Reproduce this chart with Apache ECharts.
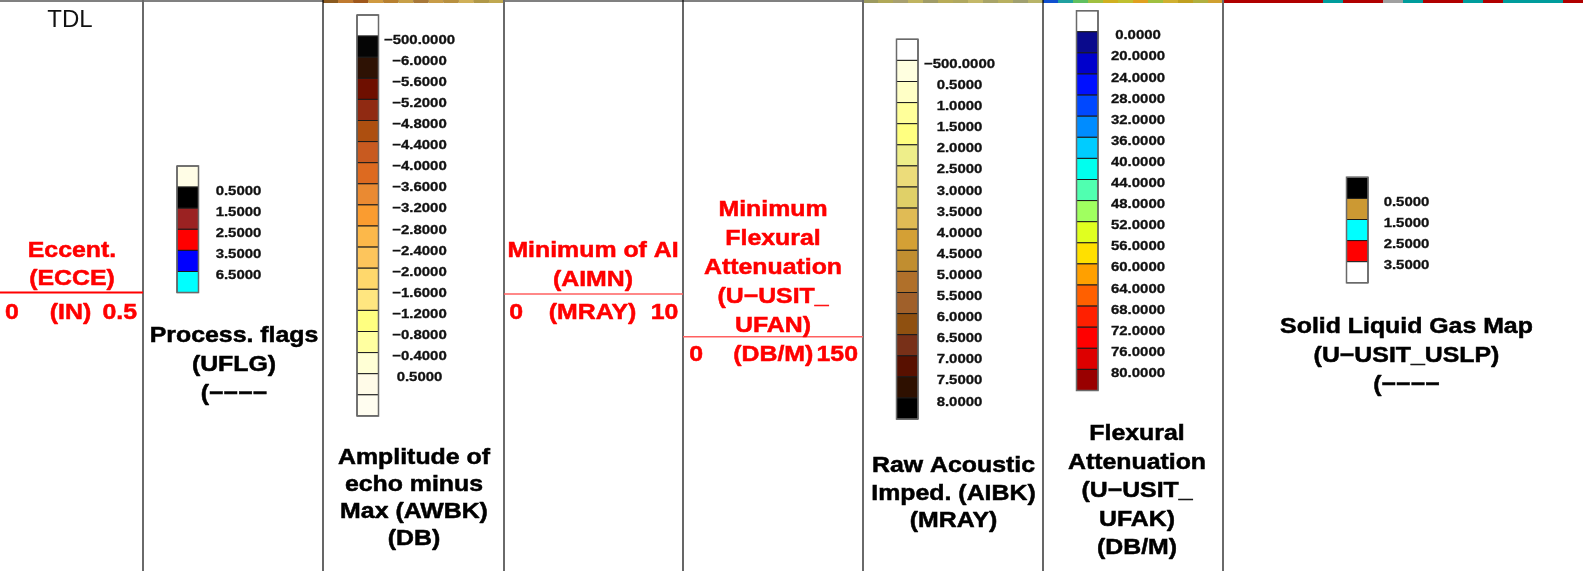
<!DOCTYPE html>
<html><head><meta charset="utf-8">
<script src="https://cdn.jsdelivr.net/npm/echarts/dist/echarts.min.js"></script>
<style>html,body{margin:0;padding:0;background:#fff}#c{width:1583px;height:571px}</style>
</head><body><div id="c"></div><script>
// ---------------- DATA ----------------
const uflgColors = ['#fffde6','#000000','#9b2222','#ff0000','#0000ff','#00ffff'];
const uflgLabels = ['0.5000','1.5000','2.5000','3.5000','6.5000'];

const awbkColors = ['#ffffff','#050505','#2e1204','#6e0f00','#902a12','#ad4f10','#c85a20','#dd6a20','#ea8a32','#fa9c30','#fcb84a','#fdc55c','#ffd86c','#ffe680','#ffff80','#ffffa0','#ffffd5','#fffbe8','#fffdf0'];
const awbkLabels = ['\u2212500.0000','\u22126.0000','\u22125.6000','\u22125.2000','\u22124.8000','\u22124.4000','\u22124.0000','\u22123.6000','\u22123.2000','\u22122.8000','\u22122.4000','\u22122.0000','\u22121.6000','\u22121.2000','\u22120.8000','\u22120.4000','0.5000'];

const aibkColors = ['#ffffff','#ffffe0','#ffffc6','#ffff9a','#ffff80','#eeee8a','#ecdc7a','#e0d068','#e0bb55','#d4a035','#c18e30','#b0702a','#a0602a','#8f5010','#783018','#581000','#2e1000','#000000'];
const aibkLabels = ['\u2212500.0000','0.5000','1.0000','1.5000','2.0000','2.5000','3.0000','3.5000','4.0000','4.5000','5.0000','5.5000','6.0000','6.5000','7.0000','7.5000','8.0000'];

const ufakColors = ['#ffffff','#0a0a8c','#0000cc','#0010ff','#0048ff','#008cff','#00ccff','#00ffee','#50ffb0','#a0ff60','#e0ff20','#ffe000','#ffa000','#ff6000','#ff2000','#ff0000','#dd0000','#990000'];
const ufakLabels = ['0.0000','20.0000','24.0000','28.0000','32.0000','36.0000','40.0000','44.0000','48.0000','52.0000','56.0000','60.0000','64.0000','68.0000','72.0000','76.0000','80.0000'];

const uslpColors = ['#000000','#cc9933','#00ffff','#ff0000','#ffffff'];
const uslpLabels = ['0.5000','1.5000','2.5000','3.5000'];

// thin image strip at the very top of image tracks
const awbkStrip = ['#8a5a20','#c07a30','#a0581c','#d09a40','#b88030','#c8a048','#a87838','#c89c48','#b89040','#d0b058','#b09848','#c0a850'];
const aibkStrip = ['#9c9a60','#b0a858','#a8a070','#c0b460','#a09c68','#b8ac58','#b0a860','#c4b868','#a8a468','#b8b060','#a0a070','#b8b468'];
const ufakStrip = ['#1050d0','#20a0a0','#60c060','#a0c040','#d0b020','#c0c030','#e0a020','#a0c040','#d0b030','#c0a020','#b0b040','#d0a030'];
const uslpStrip = ['#b00000','#b00000','#b00000','#b00000','#b00000','#009c9c','#b00000','#b00000','#a0a0a0','#009c9c','#b00000','#b00000','#009c9c','#b00000','#009c9c','#009c9c','#009c9c','#b00000'];

// header texts
const tdlText = 'TDL';
const ecceTitle = ['Eccent.','(ECCE)'];
const ecceScale = ['0','(IN)','0.5'];
const uflgTitle = ['Process. flags','(UFLG)','(\u2212\u2212\u2212\u2212'];
const awbkTitle = ['Amplitude of','echo minus','Max (AWBK)','(DB)'];
const aimnTitle = ['Minimum of AI','(AIMN)'];
const aimnScale = ['0','(MRAY)','10'];
const ufanTitle = ['Minimum','Flexural','Attenuation','(U\u2212USIT_','UFAN)'];
const ufanScale = ['0','(DB/M)','150'];
const aibkTitle = ['Raw Acoustic','Imped. (AIBK)','(MRAY)'];
const ufakTitle = ['Flexural','Attenuation','(U\u2212USIT_','UFAK)','(DB/M)'];
const uslpTitle = ['Solid Liquid Gas Map','(U\u2212USIT_USLP)','(\u2212\u2212\u2212\u2212'];

// ---------------- LAYOUT ----------------
const FONT = '"Liberation Sans", Arial, Helvetica, sans-serif';
const SX = 1.13;
const BOX_W = 21.5, BOX_H = 21.1;
const legendLayout = [
  {colors: uflgColors, labels: uflgLabels, left: 177, top: 166, dx: 40},
  {colors: awbkColors, labels: awbkLabels, left: 357, top: 15, dx: 41},
  {colors: aibkColors, labels: aibkLabels, left: 896.5, top: 39.3, dx: 41.5},
  {colors: ufakColors, labels: ufakLabels, left: 1076.5, top: 10.7, dx: 40},
  {colors: uslpColors, labels: uslpLabels, left: 1346.5, top: 177.3, dx: 38.5}
];
const stripLayout = [
  {colors: awbkStrip, left: 323, width: 181},
  {colors: aibkStrip, left: 863, width: 180},
  {colors: ufakStrip, left: 1043, width: 180},
  {colors: uslpStrip, left: 1223, width: 360}
];
const colLines = [
  {x: 143, c: '#6a6a6a', w: 2}, {x: 323, c: '#000', w: 1.2}, {x: 504, c: '#6a6a6a', w: 2},
  {x: 683, c: '#000', w: 1.2}, {x: 863, c: '#6a6a6a', w: 2}, {x: 1043, c: '#000', w: 1.2},
  {x: 1223, c: '#6a6a6a', w: 2}
];

const grids = [], xAxes = [], yAxes = [], series = [];
legendLayout.forEach((L, i) => {
  const n = L.colors.length;
  grids.push({left: L.left, top: L.top, width: BOX_W, height: n * BOX_H});
  xAxes.push({type: 'value', gridIndex: i, min: 0, max: 1, show: false});
  yAxes.push({type: 'value', gridIndex: i, min: 0, max: n, inverse: true, show: false});
  series.push({
    type: 'custom', xAxisIndex: i, yAxisIndex: i, silent: true,
    data: L.colors.map((c, k) => [0, k]),
    renderItem: (p, api) => {
      const k = api.value(1);
      const a = api.coord([0, k]), b = api.coord([1, k + 1]);
      return {type: 'rect', shape: {x: a[0], y: a[1], width: b[0] - a[0], height: b[1] - a[1]},
        style: {fill: L.colors[k], stroke: '#1a1a1a', lineWidth: 1}};
    }
  });
  series.push({
    type: 'custom', xAxisIndex: i, yAxisIndex: i, silent: true,
    data: [[0, 0]],
    renderItem: (p, api) => {
      const a = api.coord([0, 0]), b = api.coord([1, n]);
      return {type: 'rect', shape: {x: a[0], y: a[1], width: b[0] - a[0], height: b[1] - a[1]},
        style: {fill: 'none', stroke: '#6a6a6a', lineWidth: 1.5}};
    }
  });
  series.push({
    type: 'custom', xAxisIndex: i, yAxisIndex: i, silent: true,
    data: L.labels.map((t, k) => [1, k + 1]),
    renderItem: (p, api) => {
      const pos = api.coord([api.value(0), api.value(1)]);
      return {type: 'text', x: pos[0] + L.dx, y: pos[1] + 4, scaleX: 1.15,
        style: {text: L.labels[p.dataIndex], fill: '#111', font: 'bold 13px ' + FONT,
          stroke: '#111', lineWidth: 0.3,
          align: 'center', verticalAlign: 'middle', textAlign: 'center', textVerticalAlign: 'middle'}};
    }
  });
});
stripLayout.forEach((S, j) => {
  const gi = legendLayout.length + j;
  grids.push({left: S.left, top: 0, width: S.width, height: 3});
  xAxes.push({type: 'category', gridIndex: gi, data: S.colors.map((c, k) => k), show: false});
  yAxes.push({type: 'value', gridIndex: gi, min: 0, max: 1, show: false});
  series.push({type: 'bar', xAxisIndex: gi, yAxisIndex: gi, silent: true, barCategoryGap: '0%',
    data: S.colors.map(c => ({value: 1, itemStyle: {color: c}})), animation: false});
});

// ---------------- GRAPHICS (frame + header text) ----------------
const g = [];
g.push({type: 'rect', shape: {x: 0, y: 0, width: 1583, height: 2}, style: {fill: '#808080'}, z: 1});
colLines.forEach(l => g.push({type: 'line', shape: {x1: l.x, y1: 0, x2: l.x, y2: 571}, style: {stroke: l.c, lineWidth: l.w}, z: 5}));

function txt(s, x, y, color, align, bold) {
  const st = {text: s, fill: color, font: (bold === false ? 'normal 24px ' : 'bold 22px ') + FONT,
    align: align, verticalAlign: 'middle', textAlign: align, textVerticalAlign: 'middle'};
  if (bold !== false) { st.stroke = color; st.lineWidth = 0.5; }
  g.push({type: 'text', x: x, y: y, scaleX: bold === false ? 1 : SX, z: 10, style: st});
}
function block(lines, cx, y0, dy, color) { lines.forEach((s, i) => txt(s, cx, y0 + i * dy, color, 'center')); }
function scale(arr, l, c, r, y, color) { txt(arr[0], l, y, color, 'left'); txt(arr[1], c, y, color, 'center'); txt(arr[2], r, y, color, 'right'); }
function redLine(x1, x2, y, color, w) { g.push({type: 'line', shape: {x1: x1, y1: y, x2: x2, y2: y}, style: {stroke: color, lineWidth: w}, z: 6}); }

txt(tdlText, 70, 20, '#111', 'center', false);
block(ecceTitle, 72, 251, 28, '#ff0000');
redLine(0, 143, 292.5, '#ff0000', 2);
scale(ecceScale, 5, 70.5, 137, 313, '#ff0000');
block(uflgTitle, 234, 335.5, 29, '#000');
block(awbkTitle, 414, 457.5, 27, '#000');
block(aimnTitle, 593, 251.3, 29, '#ff0000');
redLine(504, 683, 294, '#ff6060', 1.5);
scale(aimnScale, 509.3, 592.5, 678.3, 312.5, '#ff0000');
block(ufanTitle, 773, 209.5, 29.1, '#ff0000');
redLine(683, 863, 336.7, '#ff6060', 1.5);
scale(ufanScale, 689.3, 773.3, 858, 355, '#ff0000');
block(aibkTitle, 953.5, 466, 27.5, '#000');
block(ufakTitle, 1137, 434, 28.5, '#000');
block(uslpTitle, 1406.5, 326.5, 29.3, '#000');

const chart = echarts.init(document.getElementById('c'), null, {renderer: 'canvas'});
chart.setOption({
  animation: false,
  backgroundColor: '#ffffff',
  grid: grids, xAxis: xAxes, yAxis: yAxes, series: series,
  graphic: {elements: g}
});
</script></body></html>
